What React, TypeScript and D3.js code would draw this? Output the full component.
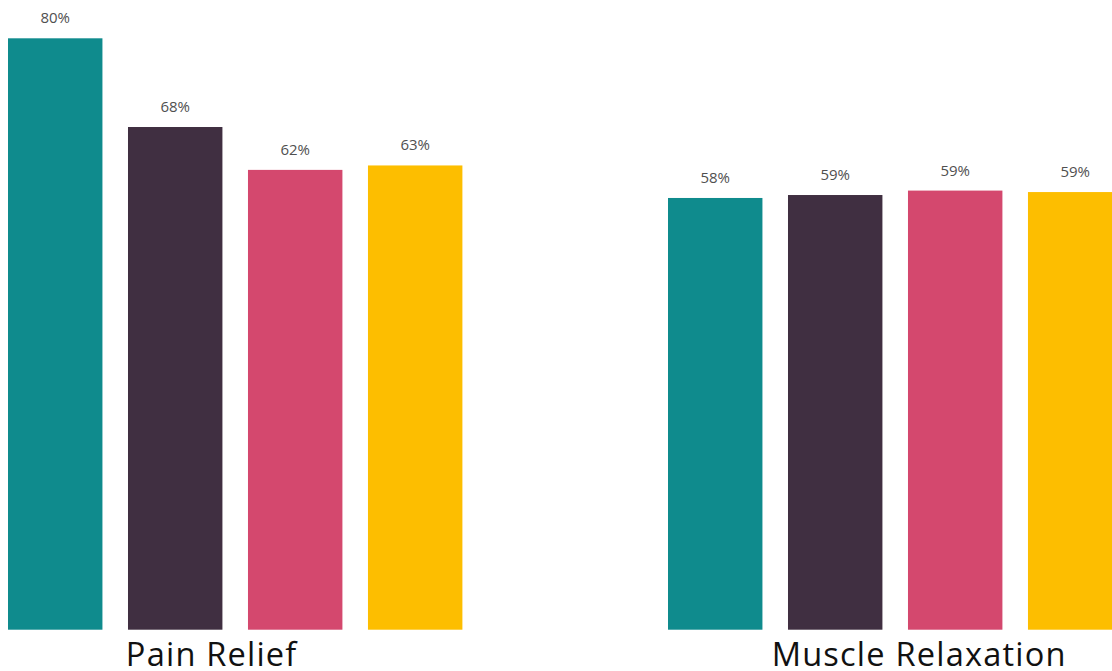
import React from "react";
import * as d3 from "d3";

const categories = ["Pain Relief", "Muscle Relaxation"];
const seriesNames = ["Series A", "Series B", "Series C", "Series D"];
const seriesColors = ["#0f8b8d", "#402f41", "#d4486e", "#fdbe00"];
const painRelief = [80, 68, 62.2, 62.8];
const muscleRelaxation = [58.4, 58.8, 59.4, 59.2];
const values = [painRelief, muscleRelaxation];

const W = 1112;
const H = 671;
const BASE_Y = 629.7;
const TOP_Y = 38.3;
const LABEL_SHIFT = [-23.5, 24];

export default function App() {
  const y = d3.scaleLinear().domain([0, 80]).range([BASE_Y, TOP_Y]);
  const x0 = d3
    .scaleBand<string>()
    .domain(categories)
    .range([-4.8, 1135.2])
    .paddingInner(180 / 660)
    .paddingOuter(0);
  const x1 = d3
    .scaleBand<string>()
    .domain(seriesNames)
    .range([0, x0.bandwidth()])
    .paddingInner(0.213)
    .paddingOuter(0.1067);
  const fmt = (v: number) => `${Math.round(v)}%`;

  return (
    <svg
      width={W}
      height={H}
      style={{ position: "absolute", left: 0, top: 0, display: "block" }}
    >
      <rect width={W} height={H} fill="#ffffff" />
      {categories.map((cat, ci) => (
        <g key={cat} transform={`translate(${x0(cat)},0)`}>
          {seriesNames.map((s, si) => {
            const v = values[ci][si];
            const bx = x1(s) as number;
            return (
              <g key={s}>
                <rect
                  x={bx}
                  y={y(v)}
                  width={x1.bandwidth()}
                  height={BASE_Y - y(v)}
                  fill={seriesColors[si]}
                />
                <text
                  x={bx + x1.bandwidth() / 2}
                  y={y(v) - 15}
                  textAnchor="middle"
                  fontFamily="'Open Sans', sans-serif"
                  fontSize={15}
                  fill="#505050"
                >
                  {fmt(v)}
                </text>
              </g>
            );
          })}
          <text
            x={x0.bandwidth() / 2 + LABEL_SHIFT[ci]}
            y={666}
            textAnchor="middle"
            fontFamily="'Open Sans', sans-serif"
            fontSize={32.6}
            letterSpacing={1.2}
            fill="#111111"
          >
            {cat}
          </text>
        </g>
      ))}
    </svg>
  );
}
